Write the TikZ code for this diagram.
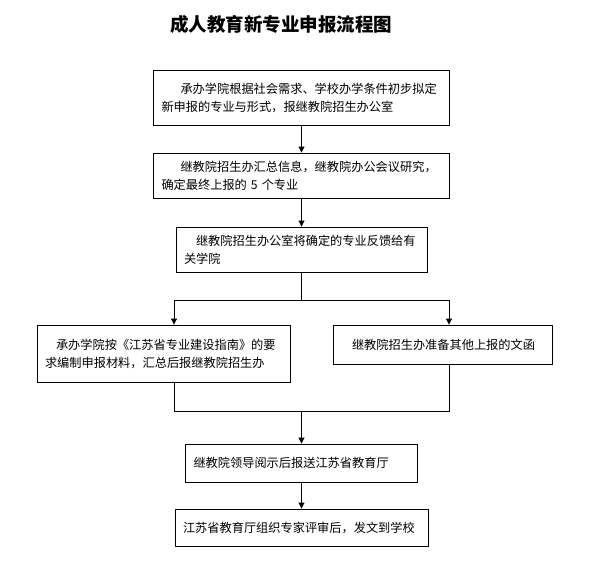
\documentclass[tikz,border=0pt]{standalone}
\usepackage{fontspec}
\setmainfont{Noto Sans CJK SC}
\usetikzlibrary{arrows.meta,positioning}

\begin{document}
\begin{tikzpicture}[x=1pt, y=-1pt,
    stage/.style={draw, line width=0.9pt, inner xsep=8pt, inner ysep=0pt, align=left, font=\fontsize{12.2}{18}\selectfont},
    arr/.style={-{Triangle[length=6pt,width=6pt]}, line width=0.9pt},
    link/.style={line width=0.9pt},
    headline/.style={font=\fontsize{18.5}{22}\selectfont\bfseries}
]
\useasboundingbox (0,0) rectangle (591,570);
\node[headline] (title) at (281,24) {成人教育新专业申报流程图};

\node[stage, text width=280pt, minimum height=55pt] (propose) at (301.5,97.5) {\hspace*{19pt}承办学院根据社会需求、学校办学条件初步拟定\\新申报的专业与形式，报继教院招生办公室};
\node[stage, text width=280pt, minimum height=45pt] (collect) at (301.5,175.5) {\hspace*{19pt}继教院招生办汇总信息，继教院办公会议研究，\\确定最终上报的 5 个专业};
\node[stage, text width=235pt, minimum height=45pt] (feedback) at (301.5,249.5) {\hspace*{12pt}继教院招生办公室将确定的专业反馈给有\\关学院};

\node[stage, text width=237pt, minimum height=57pt] (compile) at (163.5,353.5) {\hspace*{11pt}承办学院按《江苏省专业建设指南》的要\\求编制申报材料，汇总后报继教院招生办};
\node[stage, text width=203pt, minimum height=39pt] (letters) at (442.5,344.5) {\hspace*{11pt}继教院招生办准备其他上报的文函};

\node[stage, text width=216pt, minimum height=38pt] (review) at (301.5,463) {继教院领导阅示后报送江苏省教育厅};
\node[stage, text width=237pt, minimum height=37pt] (approve) at (301.5,527.5) {江苏省教育厅组织专家评审后，发文到学校};

% branch and merge points
\coordinate (split) at (301.5,300);
\coordinate (splitL) at (174,300);
\coordinate (splitR) at (449,300);
\coordinate (merge) at (301.5,411);
\coordinate (mergeL) at (174,411);
\coordinate (mergeR) at (449,411);

\draw[arr] (propose.south) -- (collect.north);
\draw[arr] (collect.south) -- (feedback.north);

\draw[link] (feedback.south) -- (split);
\draw[link] (splitL) -- (splitR);
\draw[arr] (splitL) -- (splitL |- compile.north);
\draw[arr] (splitR) -- (splitR |- letters.north);

\draw[link] (compile.south -| mergeL) -- (mergeL) -- (mergeR) -- (letters.south -| mergeR);
\draw[arr] (merge) -- (review.north);
\draw[arr] (review.south) -- (approve.north);
\end{tikzpicture}
\end{document}
